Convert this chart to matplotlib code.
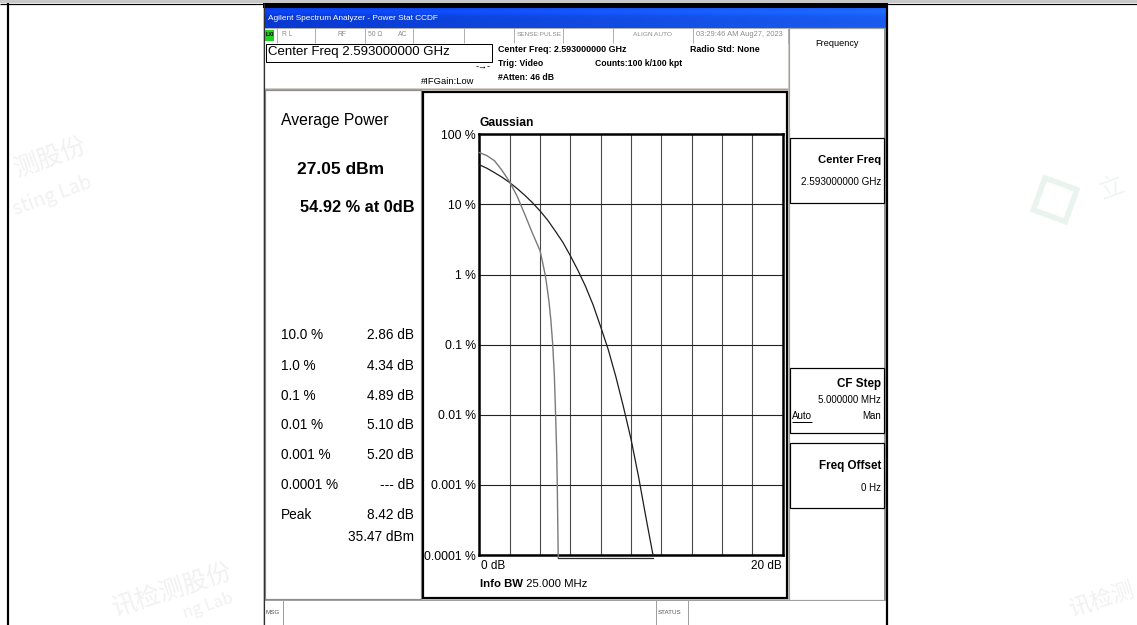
import numpy as np
import matplotlib
matplotlib.use("Agg")
import matplotlib.pyplot as plt
from matplotlib import font_manager as fm
from matplotlib.patches import Rectangle

gauss_db = [0.0, 0.5, 1.0, 1.5, 2.0, 2.5, 3.0, 3.5, 4.0, 4.5, 5.0, 5.5, 6.0, 6.5, 7.0, 7.5,
            8.0, 8.5, 9.0, 9.5, 10.0, 10.5, 11.0, 11.45]
gauss_pct = [36.8, 32.8, 28.4, 24.4, 20.5, 16.8, 13.5, 10.6, 8.1, 6.0, 4.2, 2.9, 1.86, 1.15,
             0.68, 0.37, 0.18, 0.085, 0.035, 0.013, 0.0045, 0.0013, 0.00033, 0.0001]

meas_db = [0.0, 0.5, 1.0, 1.5, 2.0, 2.5, 3.0, 3.5, 4.0, 4.2, 4.34, 4.45, 4.6, 4.72, 4.84,
           4.95, 5.03, 5.10, 5.14, 5.2, 5.2]
meas_pct = [54.9, 49.6, 42.0, 30.5, 21.0, 13.0, 7.2, 3.9, 2.2, 1.4, 1.0, 0.7, 0.4, 0.22, 0.1,
            0.035, 0.01, 0.003, 0.001, 0.0001, 0.000092]

floor_db = [5.2, 11.46]
floor_pct = [0.000092, 0.000092]

y_ticks = [100, 10, 1, 0.1, 0.01, 0.001, 0.0001]
y_ticklabels = ["100 %", "10 %", "1 %", "0.1 %", "0.01 %", "0.001 %", "0.0001 %"]
x_ticks = [0, 2, 4, 6, 8, 10, 12, 14, 16, 18, 20]

stat_labels = ["10.0 %", "1.0 %", "0.1 %", "0.01 %", "0.001 %", "0.0001 %", "Peak"]
stat_values = ["2.86 dB", "4.34 dB", "4.89 dB", "5.10 dB", "5.20 dB", "--- dB", "8.42 dB"]
peak_dbm = "35.47 dBm"
avg_power = "27.05 dBm"
pct_at_0db = "54.92 % at 0dB"

# ---------------- fonts ----------------
names = {f.name for f in fm.fontManager.ttflist}
if "Liberation Sans Narrow" in names:
    FAM = ["Liberation Sans Narrow", "DejaVu Sans"]
    K = 0.72 / 0.82
else:
    FAM = ["Liberation Sans", "DejaVu Sans"]
    K = 0.72
CJK = ["Noto Sans CJK SC", "DejaVu Sans"]
plt.rcParams["font.family"] = FAM

W, H = 1137, 625
fig = plt.figure(figsize=(W / 100, H / 100), dpi=100)
fig.patch.set_facecolor("white")
bg = fig.add_axes([0, 0, 1, 1])
bg.axis("off")

PX = 0.72  # points per pixel


def R(x0, y0, x1, y1, fc="none", ec="none", lw=1.0, z=1):
    bg.add_patch(Rectangle((x0, y0), x1 - x0, y1 - y0, facecolor=fc,
                           edgecolor=ec, linewidth=lw * PX, zorder=z))


def T(x, y, s, em, bold=False, ha="left", color="black", z=6, **kw):
    return bg.text(x, y, s, fontsize=em * K, fontweight="bold" if bold else "normal",
                   ha=ha, va="center", color=color, family=FAM, zorder=z, **kw)


def L(xs, ys, color="black", lw=1.0, z=3):
    bg.plot(xs, ys, color=color, lw=lw * PX, zorder=z, solid_capstyle="butt")


# ---------------- faint watermarks (visible parts only) ----------------
wm = "#f1f1f1"
bg.text(50, 158, "测股份", fontsize=18, rotation=20, ha="center", va="center",
        color=wm, family=CJK, zorder=0)
bg.text(52, 196, "sting Lab", fontsize=14, rotation=20, ha="center", va="center",
        color=wm, family=CJK, zorder=0)
bg.text(172, 590, "讯检测股份", fontsize=18, rotation=18, ha="center", va="center",
        color=wm, family=CJK, zorder=0)
bg.text(208, 606, "ng Lab", fontsize=12, rotation=18, ha="center", va="center",
        color=wm, family=CJK, zorder=0)
bg.add_patch(Rectangle((1045, 178), 34, 34, angle=20, facecolor="none",
                       edgecolor="#e9f4ee", linewidth=4, zorder=0))
bg.text(1112, 188, "立", fontsize=18, rotation=20, ha="center", va="center",
        color="#eef6f1", family=CJK, zorder=0)
bg.text(1102, 600, "讯检测", fontsize=16, rotation=18, ha="center", va="center",
        color=wm, family=CJK, zorder=0)

# ---------------- document frame ----------------
R(0, 0, W, 3, fc="#c8c8c8", z=2)
L([0, W], [3.5, 3.5], lw=1.2)
L([7.5, 7.5], [3, H], lw=2.2)
L([886.5, 886.5], [3, H], lw=2.2)

# ---------------- window ----------------
R(263, 3, 886, H, fc="#d4d0c8", z=1)
R(263, 3, 886, 8, fc="black", z=2)
L([263.5, 263.5], [3, H], color="#303030", lw=1.2, z=4)
# title bar gradient
grad_w = np.linspace(0, 1, 200)
grad_h = np.linspace(0, 1, 20)
c0 = np.array([0.03, 0.22, 0.82])
c1 = np.array([0.10, 0.36, 0.94])
img = c0[None, None, :] * (1 - grad_w[None, :, None]) + c1[None, None, :] * grad_w[None, :, None]
shade = (1.0 + 0.18 * np.exp(-((grad_h - 0.15) / 0.18) ** 2))[:, None, None]
img = np.clip(img * shade, 0, 1)
bg.imshow(img, extent=(264, 886, 28, 8), aspect="auto", zorder=2, interpolation="bilinear")
T(268, 18, "Agilent Spectrum Analyzer - Power Stat CCDF", 8.25, color="white")

# status row
R(264, 28, 788, 42.5, fc="white", ec="#b0b0b0", lw=1, z=2)
for xd in [277, 315, 365, 413, 464, 514, 563, 613, 693]:
    L([xd, xd], [28, 42.5], color="#b0b0b0", lw=1, z=3)
R(265, 29.5, 274, 41, fc="#22d022", z=3)
T(265.5, 35, "LXI", 5.5, bold=True)
sc = "#8c8c8c"
T(282, 35, "R L", 6.8, color=sc)
T(337, 35, "RF", 6.8, color=sc)
T(368, 35, "50 Ω", 6.8, color=sc)
T(398, 35, "AC", 6.8, color=sc)
T(517, 35, "SENSE:PULSE", 6.5, color=sc)
T(633, 35, "ALIGN AUTO", 6.5, color=sc)
T(696, 35, "03:29:46 AM Aug27, 2023", 7.5, color=sc)

# header info area
R(264, 42.5, 788, 88, fc="white", z=2)
R(265.5, 43.5, 492, 62, fc="white", ec="black", lw=1, z=3)
T(268, 52.5, "Center Freq 2.593000000 GHz", 13.3)
T(498, 50, "Center Freq: 2.593000000 GHz", 8.9, bold=True)
T(690, 50, "Radio Std: None", 8.9, bold=True)
T(498, 63, "Trig: Video", 8.6, bold=True)
T(595, 63, "Counts:100 k/100 kpt", 8.7, bold=True)
T(498, 77, "#Atten: 46 dB", 8.6, bold=True)
T(421, 81, "#IFGain:Low", 9.4)
T(483, 67, "-→-", 9, ha="center")
L([264, 788], [88.5, 88.5], color="#a0a0a0", lw=1, z=3)

# left results panel
R(265, 90, 421, 599, fc="white", ec="#8c8c8c", lw=1.2, z=2)
T(281, 121, "Average Power", 15.8)
T(297, 170, avg_power, 17.4, bold=True)
T(300, 207, pct_at_0db, 16.4, bold=True)
row_y = [335, 366, 396, 425, 455, 485, 515]
for yy, lab, val in zip(row_y, stat_labels, stat_values):
    T(281, yy, lab, 13.6)
    T(414, yy, val, 13.6, ha="right")
T(414, 537, peak_dbm, 13.6, ha="right")

# plot frame
R(423, 92, 787, 598, fc="white", ec="black", lw=2.2, z=2)
T(480, 123, "Gaussian", 12, bold=True)
T(481, 566, "0 dB", 11.7)
T(782, 566, "20 dB", 11.7, ha="right")
t1 = T(480, 584, "Info BW", 11.4, bold=True)
bg.annotate(" 25.000 MHz", xy=(1, 0.5), xycoords=t1, va="center", ha="left",
            fontsize=11.4 * K, family=FAM, zorder=6)

# softkey column
R(789, 28, 885, 600, fc="white", ec="#a0a0a0", lw=1.2, z=2)
L([884.5, 884.5], [28, 600], color="#909090", lw=2, z=3)
T(837, 44, "Frequency", 9.1, ha="center")
R(790, 138, 883.5, 203, fc="white", ec="black", lw=1.2, z=3)
T(881, 160, "Center Freq", 11.2, bold=True, ha="right")
T(881, 182, "2.593000000 GHz", 9.9, ha="right")
R(790, 368, 883.5, 433, fc="white", ec="black", lw=1.2, z=3)
T(881, 384, "CF Step", 11.6, bold=True, ha="right")
T(881, 400, "5.000000 MHz", 9.8, ha="right")
T(792, 416, "Auto", 9.8)
L([792, 812], [422, 422], lw=1, z=4)
T(881, 416, "Man", 9.8, ha="right")
R(790, 443, 883.5, 508, fc="white", ec="black", lw=1.2, z=3)
T(881, 466, "Freq Offset", 11.6, bold=True, ha="right")
T(881, 488, "0 Hz", 9.8, ha="right")

# bottom message bar
R(264, 600, 886, 626, fc="white", ec="#a0a0a0", lw=1, z=2)
L([283, 283], [600, 626], color="#a0a0a0", lw=1, z=3)
L([656, 656], [600, 626], color="#a0a0a0", lw=1, z=3)
L([688, 688], [600, 626], color="#a0a0a0", lw=1, z=3)
T(265, 612, "MSG", 6.3, color="#555555")
T(658, 612, "STATUS", 6.3, color="#555555")

bg.set_xlim(0, W)
bg.set_ylim(H, 0)

# ---------------- CCDF plot ----------------
x0, x1, y0, y1 = 479.3, 782.7, 134.3, 555.0
ax = fig.add_axes([x0 / W, 1 - y1 / H, (x1 - x0) / W, (y1 - y0) / H])
ax.set_zorder(5)
ax.set_facecolor("white")
ax.set_yscale("log")
ax.set_xlim(0, 20)
ax.set_ylim(1e-4, 100)
ax.set_xticks(x_ticks)
ax.set_xticklabels([])
ax.set_yticks(y_ticks)
ax.set_yticklabels(y_ticklabels, family=FAM, fontsize=12.3 * K)
ax.minorticks_off()
ax.tick_params(length=0, pad=2.5)
ax.grid(True, axis="y", color="#222222", lw=0.8)
ax.grid(True, axis="x", color="#4a4a4a", lw=0.8)
ax.set_axisbelow(True)
for sp in ax.spines.values():
    sp.set_linewidth(1.8)
    sp.set_color("black")

ax.plot(gauss_db, gauss_pct, color="#1c1c1c", lw=0.9, clip_on=False, zorder=4)
ax.plot(meas_db, meas_pct, color="#7a7a7a", lw=1.0, clip_on=False, zorder=4)
ax.plot(floor_db, floor_pct, color="#2a2a2a", lw=0.9, clip_on=False, zorder=4)

fig.savefig("out.png", dpi=100)
